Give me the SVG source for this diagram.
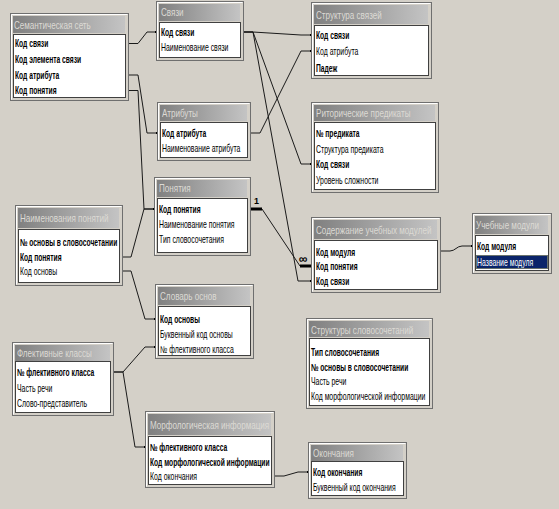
<svg xmlns="http://www.w3.org/2000/svg" width="559" height="509" viewBox="0 0 559 509">
<defs>
<linearGradient id="tg" x1="0" y1="0" x2="1" y2="0">
<stop offset="0" stop-color="#808080"/>
<stop offset="1" stop-color="#c4c4c4"/>
</linearGradient>
<marker id="dot" markerWidth="4" markerHeight="4" refX="2" refY="2" markerUnits="userSpaceOnUse">
<rect x="1" y="1" width="2" height="2" fill="#000"/>
</marker>
<style>
.frame{fill:#d4d0c8;stroke:#6f6f6f;stroke-width:1}
.hl{fill:none;stroke:#ffffff;stroke-width:1}
.title{fill:url(#tg)}
.list{fill:#ffffff;stroke:#404040;stroke-width:1}
text{font-family:"Liberation Sans",Arial,sans-serif;font-size:10px;fill:#000}
.tt{fill:#dcdad4;font-size:10.5px}
.b{font-weight:bold}
.sel{fill:#ffffff}
.c{fill:none;stroke:#1a1a1a;stroke-width:1;marker-start:url(#dot);marker-end:url(#dot)}
.cn{fill:none;stroke:#1a1a1a;stroke-width:1}
.thick{fill:none;stroke:#000;stroke-width:3}
.lab{font-weight:bold;font-size:9px}
.inf{font-weight:bold;font-size:12px}
</style>
</defs>
<rect x="0" y="0" width="559" height="509" fill="#d4d0c8"/>

<g id="connectors">
<path class="c" d="M128,43.5 H138 L147,32 H156"/>
<path class="c" d="M128,75 H138 L147,133 H157"/>
<path class="c" d="M128,90.5 H138 L144,209 H154"/>
<path class="c" d="M122,257 H131 L144,209 H154"/>
<path class="c" d="M122,271 H131 L145,319 H155"/>
<path class="c" d="M243,32 H253 L301,35 H311"/>
<path class="c" d="M243,32 H253 L301,164 H311"/>
<path class="c" d="M243,32 H253 L298,281 H311"/>
<path class="c" d="M250,133 H260 L301,51 H311"/>
<path class="thick" d="M250,209 H262"/>
<path class="cn" d="M262,209 L300,266"/>
<path class="thick" d="M300,266 H311"/>
<text class="lab" x="254" y="204">1</text>
<text class="inf" x="299" y="263">∞</text>
<path class="c" d="M440,251 H450 C455,251 457,246 462,246 H472"/>
<path class="c" d="M113,372 H123 L145,347 H155"/>
<path class="c" d="M113,372 H123 L135,447 H145"/>
<path class="c" d="M274,476 H284 L298,472 H308"/>
</g>

<g id="n-semantic">
<rect class="frame" x="10.5" y="13.5" width="118" height="87"/>
<path class="hl" d="M11.5,99.5 V14.5 H127.5"/>
<rect class="title" x="13" y="16" width="112" height="17"/>
<text class="tt" transform="translate(14 28.5) scale(0.77 1)">Семантическая сеть</text>
<rect class="list" x="13.5" y="34.5" width="112" height="63"/>
<text class="b" transform="translate(15 47) scale(0.67 1)">Код связи</text>
<text class="b" transform="translate(15 63) scale(0.67 1)">Код элемента связи</text>
<text class="b" transform="translate(15 79) scale(0.67 1)">Код атрибута</text>
<text class="b" transform="translate(15 94) scale(0.67 1)">Код понятия</text>
</g>

<g id="n-svyazi">
<rect class="frame" x="156.5" y="1.5" width="87" height="59"/>
<path class="hl" d="M157.5,59.5 V2.5 H242.5"/>
<rect class="title" x="159" y="4" width="81" height="17"/>
<text class="tt" transform="translate(161 16) scale(0.77 1)">Связи</text>
<rect class="list" x="159.5" y="22.5" width="81" height="35"/>
<text class="b" transform="translate(161 35.5) scale(0.67 1)">Код связи</text>
<text transform="translate(161 50.5) scale(0.69 1)">Наименование связи</text>
</g>

<g id="n-struktura-svyazey">
<rect class="frame" x="311.5" y="2.5" width="120" height="76"/>
<path class="hl" d="M312.5,77.5 V3.5 H430.5"/>
<rect class="title" x="314" y="5" width="114" height="19"/>
<text class="tt" transform="translate(316 18.5) scale(0.77 1)">Структура связей</text>
<rect class="list" x="314.5" y="25.5" width="114" height="50"/>
<text class="b" transform="translate(316 38.5) scale(0.67 1)">Код связи</text>
<text transform="translate(316 55) scale(0.69 1)">Код атрибута</text>
<text class="b" transform="translate(316 71.5) scale(0.67 1)">Падеж</text>
</g>

<g id="n-atributy">
<rect class="frame" x="157.5" y="102.5" width="93" height="58"/>
<path class="hl" d="M158.5,159.5 V103.5 H249.5"/>
<rect class="title" x="160" y="105" width="87" height="16"/>
<text class="tt" transform="translate(162 117) scale(0.77 1)">Атрибуты</text>
<rect class="list" x="160.5" y="122.5" width="87" height="35"/>
<text class="b" transform="translate(162 136.5) scale(0.67 1)">Код атрибута</text>
<text transform="translate(162 151.5) scale(0.69 1)">Наименование атрибута</text>
</g>

<g id="n-ponyatiya">
<rect class="frame" x="154.5" y="177.5" width="96" height="78"/>
<path class="hl" d="M155.5,254.5 V178.5 H249.5"/>
<rect class="title" x="157" y="180" width="90" height="17"/>
<text class="tt" transform="translate(159 192) scale(0.77 1)">Понятия</text>
<rect class="list" x="157.5" y="198.5" width="90" height="54"/>
<text class="b" transform="translate(159 212.5) scale(0.67 1)">Код понятия</text>
<text transform="translate(159 227.5) scale(0.69 1)">Наименование понятия</text>
<text transform="translate(159 242.5) scale(0.69 1)">Тип словосочетания</text>
</g>

<g id="n-ritoricheskie">
<rect class="frame" x="311.5" y="102.5" width="127" height="90"/>
<path class="hl" d="M312.5,191.5 V103.5 H437.5"/>
<rect class="title" x="314" y="105" width="121" height="16"/>
<text class="tt" transform="translate(316 117) scale(0.77 1)">Риторические предикаты</text>
<rect class="list" x="314.5" y="122.5" width="121" height="67"/>
<text class="b" transform="translate(316 136.5) scale(0.67 1)">№ предиката</text>
<text transform="translate(316 152.5) scale(0.69 1)">Структура предиката</text>
<text class="b" transform="translate(316 167.5) scale(0.67 1)">Код связи</text>
<text transform="translate(316 183.5) scale(0.69 1)">Уровень сложности</text>
</g>

<g id="n-naimenovaniya">
<rect class="frame" x="15.5" y="205.5" width="107" height="80"/>
<path class="hl" d="M16.5,284.5 V206.5 H121.5"/>
<rect class="title" x="18" y="208" width="101" height="20"/>
<text class="tt" transform="translate(20 222) scale(0.77 1)">Наименования понятий</text>
<rect class="list" x="18.5" y="229.5" width="101" height="53"/>
<text class="b" transform="translate(20 245.5) scale(0.67 1)">№ основы в словосочетании</text>
<text class="b" transform="translate(20 260.5) scale(0.67 1)">Код понятия</text>
<text transform="translate(20 274.5) scale(0.69 1)">Код основы</text>
</g>

<g id="n-soderzhanie">
<rect class="frame" x="311.5" y="217.5" width="129" height="75"/>
<path class="hl" d="M312.5,291.5 V218.5 H439.5"/>
<rect class="title" x="314" y="220" width="123" height="19"/>
<text class="tt" transform="translate(316 233.5) scale(0.77 1)">Содержание учебных модулей</text>
<rect class="list" x="314.5" y="240.5" width="123" height="49"/>
<text class="b" transform="translate(316 255.5) scale(0.67 1)">Код модуля</text>
<text class="b" transform="translate(316 269.5) scale(0.67 1)">Код понятия</text>
<text class="b" transform="translate(316 284.5) scale(0.67 1)">Код связи</text>
</g>

<g id="n-uchebnye-moduli">
<rect class="frame" x="472.5" y="213.5" width="79" height="60"/>
<path class="hl" d="M473.5,272.5 V214.5 H550.5"/>
<rect class="title" x="475" y="216" width="73" height="18"/>
<text class="tt" transform="translate(476 228.5) scale(0.77 1)">Учебные модули</text>
<rect class="list" x="475.5" y="235.5" width="73" height="35"/>
<text class="b" transform="translate(477 249.5) scale(0.67 1)">Код модуля</text>
<rect x="476" y="255" width="72" height="14" fill="#0a246a"/>
<rect x="476.5" y="255.5" width="71" height="13" fill="none" stroke="#c8c070" stroke-width="1" stroke-dasharray="1 1"/>
<text class="sel" transform="translate(477 265.5) scale(0.69 1)">Название модуля</text>
</g>

<g id="n-slovar-osnov">
<rect class="frame" x="155.5" y="284.5" width="98" height="74"/>
<path class="hl" d="M156.5,357.5 V285.5 H252.5"/>
<rect class="title" x="158" y="287" width="92" height="18"/>
<text class="tt" transform="translate(160 300) scale(0.77 1)">Словарь основ</text>
<rect class="list" x="158.5" y="306.5" width="92" height="49"/>
<text class="b" transform="translate(160 322.5) scale(0.67 1)">Код основы</text>
<text transform="translate(160 337.5) scale(0.69 1)">Буквенный код основы</text>
<text transform="translate(160 352.5) scale(0.69 1)">№ флективного класса</text>
</g>

<g id="n-flektivnye">
<rect class="frame" x="12.5" y="342.5" width="101" height="73"/>
<path class="hl" d="M13.5,414.5 V343.5 H112.5"/>
<rect class="title" x="15" y="345" width="95" height="16"/>
<text class="tt" transform="translate(17 357) scale(0.77 1)">Флективные классы</text>
<rect class="list" x="15.5" y="361.5" width="95" height="51"/>
<text class="b" transform="translate(17 375.5) scale(0.67 1)">№ флективного класса</text>
<text transform="translate(17 391.5) scale(0.69 1)">Часть речи</text>
<text transform="translate(17 406.5) scale(0.69 1)">Слово-представитель</text>
</g>

<g id="n-struktury-slovosochetaniy">
<rect class="frame" x="306.5" y="318.5" width="126" height="90"/>
<path class="hl" d="M307.5,407.5 V319.5 H431.5"/>
<rect class="title" x="309" y="321" width="120" height="16"/>
<text class="tt" transform="translate(311 333.5) scale(0.77 1)">Структуры словосочетаний</text>
<rect class="list" x="309.5" y="338.5" width="120" height="67"/>
<text class="b" transform="translate(311 355.5) scale(0.67 1)">Тип словосочетания</text>
<text class="b" transform="translate(311 370.5) scale(0.67 1)">№ основы в словосочетании</text>
<text transform="translate(311 384.5) scale(0.69 1)">Часть речи</text>
<text transform="translate(311 399.5) scale(0.69 1)">Код морфологической информации</text>
</g>

<g id="n-morfologicheskaya">
<rect class="frame" x="145.5" y="411.5" width="129" height="76"/>
<path class="hl" d="M146.5,486.5 V412.5 H273.5"/>
<rect class="title" x="148" y="414" width="123" height="21"/>
<text class="tt" transform="translate(150 428.5) scale(0.77 1)">Морфологическая информация</text>
<rect class="list" x="148.5" y="436.5" width="123" height="48"/>
<text class="b" transform="translate(150 450.5) scale(0.67 1)">№ флективного класса</text>
<text class="b" transform="translate(150 465.5) scale(0.67 1)">Код морфологической информации</text>
<text transform="translate(150 479.5) scale(0.69 1)">Код окончания</text>
</g>

<g id="n-okonchaniya">
<rect class="frame" x="308.5" y="442.5" width="98" height="56"/>
<path class="hl" d="M309.5,497.5 V443.5 H405.5"/>
<rect class="title" x="311" y="445" width="92" height="16"/>
<text class="tt" transform="translate(313 457) scale(0.77 1)">Окончания</text>
<rect class="list" x="311.5" y="461.5" width="92" height="34"/>
<text class="b" transform="translate(313 475.5) scale(0.67 1)">Код окончания</text>
<text transform="translate(313 490.5) scale(0.69 1)">Буквенный код окончания</text>
</g>
</svg>
